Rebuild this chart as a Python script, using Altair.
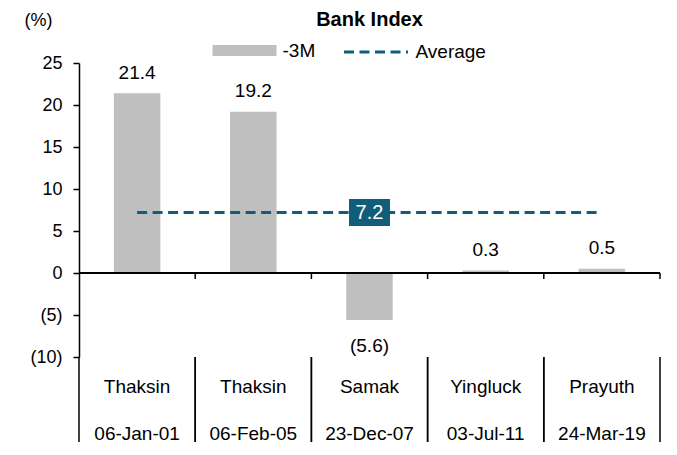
import altair as alt
import pandas as pd

names = ["Thaksin", "Thaksin", "Samak", "Yingluck", "Prayuth"]
dates = ["06-Jan-01", "06-Feb-05", "23-Dec-07", "03-Jul-11", "24-Mar-19"]
values = [21.4, 19.2, -5.6, 0.3, 0.5]
avg_value = 7.2
avg_label_cat = 2  # index of category holding the average label
y_ticks = [-10, -5, 0, 5, 10, 15, 20, 25]

W, H = 581, 294
FONT = "Liberation Sans"
GRAY = "#BFBFBF"
TEAL = "#105E7A"

cats = [f"{n}|{d}" for n, d in zip(names, dates)]
df = pd.DataFrame({"cat": cats, "value": values, "s1": "-3M"})
avg_df = pd.DataFrame({"cat": cats, "avg": [avg_value] * len(cats), "s2": "Average"})
box_df = pd.DataFrame({"cat": [cats[avg_label_cat]], "avg": [avg_value],
                       "label": [f"{avg_value:.1f}"]})
cat_df = pd.DataFrame({"cat": cats})

xscale = alt.Scale(domain=cats, paddingInner=0, paddingOuter=0)
yscale = alt.Scale(domain=[-10, 25], nice=False, zero=False)

xaxis = alt.Axis(domain=False, ticks=False, tickSize=0, labelAngle=0,
                 labelExpr="split(datum.value, '|')",
                 labelFontSize=19, labelLineHeight=47,
                 labelBaseline="top", labelPadding=20,
                 labelColor="black", labelFont=FONT, title=None)
yaxis = alt.Axis(values=y_ticks, grid=False, domainColor="black",
                 domainWidth=1.5, tickColor="black", tickWidth=1.5,
                 tickSize=6, labelFontSize=18, labelColor="black",
                 labelFont=FONT, labelPadding=11,
                 labelExpr="datum.value < 0 ? '(' + abs(datum.value) + ')' : datum.label + '\u00a0'",
                 title="(%)", titleAngle=0, titleX=-41, titleY=-43,
                 titleAlign="center", titleBaseline="middle",
                 titleFontWeight="normal", titleFontSize=18,
                 titleFont=FONT, titleColor="black")


def X(band=None):
    if band is None:
        return alt.X("cat:N", scale=xscale, axis=xaxis, title=None)
    return alt.X("cat:N", scale=xscale, axis=xaxis, title=None, bandPosition=band)


def Y(field):
    return alt.Y(field, scale=yscale, axis=yaxis, title="(%)")


bars = alt.Chart(df).mark_bar(width={"band": 0.4}).encode(
    x=X(),
    y=Y("value:Q"),
    fill=alt.Fill("s1:N", scale=alt.Scale(domain=["-3M"], range=[GRAY]),
                  legend=alt.Legend(title=None, orient="none", legendX=133.5,
                                    legendY=-44.5, padding=0,
                                    symbolType="M-1,-0.17H1V0.17H-1Z",
                                    symbolSize=4096, symbolStrokeWidth=0,
                                    labelOffset=6, labelFontSize=19,
                                    labelFont=FONT, labelColor="black")),
)

zero_line = alt.Chart(cat_df).mark_rule(color="black", strokeWidth=1.5).encode(
    y=alt.datum(0, scale=yscale, axis=yaxis, title="(%)"),
    x=alt.value(0), x2=alt.value(W))

zero_ticks = alt.Chart(cat_df).mark_rule(color="black", strokeWidth=1.5).encode(
    x=X(1),
    y=alt.datum(0, scale=yscale, axis=yaxis, title="(%)"), y2=alt.datum(-0.72))

sep_start = alt.Chart(cat_df).mark_rule(color="black", strokeWidth=1.5).encode(
    x=X(0), y=alt.value(H), y2=alt.value(H + 89))
sep_end = alt.Chart(cat_df).mark_rule(color="black", strokeWidth=1.5).encode(
    x=X(1), y=alt.value(H), y2=alt.value(H + 89))

avg_line = alt.Chart(avg_df).mark_line(strokeWidth=3, strokeDash=[10, 5.5]).encode(
    x=X(),
    y=Y("avg:Q"),
    stroke=alt.Stroke("s2:N", scale=alt.Scale(domain=["Average"], range=[TEAL]),
                      legend=alt.Legend(title=None, orient="none", legendX=263.5,
                                        legendY=-44.5, padding=0,
                                        symbolType="stroke", symbolSize=4096,
                                        symbolStrokeWidth=3, symbolDash=[10, 5.5],
                                        labelOffset=6, labelFontSize=19,
                                        labelFont=FONT, labelColor="black")),
)

box = alt.Chart(box_df).mark_point(shape="M-1,-0.66H1V0.66H-1Z", filled=True,
                                   size=1681, color=TEAL, opacity=1).encode(
    x=X(), y=Y("avg:Q"))

box_text = alt.Chart(box_df).mark_text(color="white", fontSize=20, font=FONT,
                                       baseline="middle", align="center").encode(
    x=X(), y=Y("avg:Q"), text="label:N")

lab_expr = "datum.value < 0 ? '(' + format(-datum.value, '.1f') + ')' : format(datum.value, '.1f')"
pos_text = alt.Chart(df).transform_filter("datum.value >= 0").transform_calculate(
    lab=lab_expr).mark_text(fontSize=19, font=FONT, color="black",
                            baseline="middle", dy=-20.5).encode(
    x=X(), y=Y("value:Q"), text="lab:N")
neg_text = alt.Chart(df).transform_filter("datum.value < 0").transform_calculate(
    lab=lab_expr).mark_text(fontSize=19, font=FONT, color="black",
                            baseline="middle", dy=26).encode(
    x=X(), y=Y("value:Q"), text="lab:N")

chart = alt.layer(
    bars, zero_line, zero_ticks, sep_start, sep_end, avg_line, box, box_text,
    pos_text, neg_text
).properties(
    width=W, height=H,
    autosize=alt.AutoSizeParams(type="none"),
    padding={"left": 71, "top": 55, "right": 8, "bottom": 85},
    title=alt.Title("Bank Index", anchor="middle", fontSize=20, fontWeight="bold",
                    font=FONT, color="black", offset=-19),
).configure(font=FONT).configure_view(stroke=None)

chart.save("out.html", embed_options={"renderer": "svg", "actions": False})
